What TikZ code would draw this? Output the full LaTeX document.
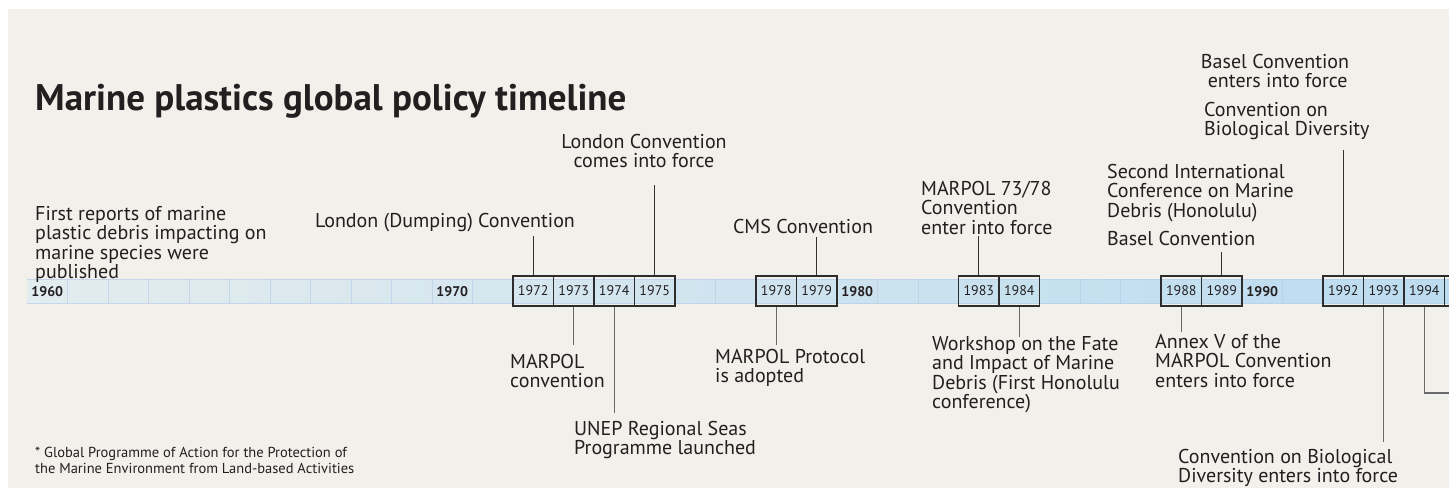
\documentclass[tikz,border=0pt]{standalone}
\usepackage{fontspec}
\setmainfont{PT Sans}
\begin{document}
\begin{tikzpicture}[x=1pt,y=-1pt,
  txt/.style={inner sep=0pt, text=ink, font=\fontsize{20}{19.5}\selectfont, align=left},
  yearbox/.style={draw=boxline, line width=1.2pt, minimum width=40.5pt, minimum height=30pt, inner sep=0pt, font=\fontsize{14}{14}\selectfont, text=ink},
  decade/.style={inner sep=0pt, font=\bfseries\fontsize{14}{14}\selectfont, text=ink},
  upline/.style={draw=upcol, line width=1.1pt},
  downline/.style={draw=downcol, line width=1.1pt}]
\definecolor{bg}{RGB}{241,240,234}
\definecolor{ink}{RGB}{35,31,32}
\definecolor{boxline}{RGB}{45,45,45}
\definecolor{upcol}{RGB}{50,50,50}
\definecolor{downcol}{RGB}{105,105,105}
\definecolor{barL}{RGB}{227,236,238}
\definecolor{barR}{RGB}{188,220,240}
\definecolor{cellline}{RGB}{178,202,232}
\useasboundingbox (0,0) rectangle (1449,488);
\fill[white] (0,0) rectangle (1449,488);
\fill[bg] (8,9) rectangle (1449,488);
% bar
\shade[left color=barL, right color=barR] (27,279) rectangle (1449,303);
\foreach \i in {1,...,35} {\draw[cellline, opacity=0.6, line width=0.8pt] (27+\i*40.5,279) -- (27+\i*40.5,303);}
\draw[cellline, opacity=0.6, line width=0.8pt] (27,279) -- (1449,279) (27,303) -- (1449,303);
% title
\node[inner sep=0pt, anchor=base west, text=ink, font=\bfseries\fontsize{37}{37}\selectfont] (title) at (35,110) {Marine plastics global policy timeline};
% decades
\node[decade] (d1960) at (47.25,292) {1960};
\node[decade] (d1970) at (452.25,292) {1970};
\node[decade] (d1980) at (857.25,292) {1980};
\node[decade] (d1990) at (1262.25,292) {1990};
% year boxes
\foreach \yr in {1972,1973,1974,1975,1978,1979,1983,1984,1988,1989,1992,1993,1994} {
  \node[yearbox] (b\yr) at ({47.25+(\yr-1960)*40.5},291) {\yr};
}
\node[yearbox] (b1995) at ({47.25+35*40.5},291) {};
% labels
\node[txt, anchor=north west] (l1960) at (35,206) {First reports of marine\\plastic debris impacting on\\marine species were\\published};
\node[txt, anchor=base] (l1972) at (445,227) {London (Dumping) Convention};
\node[txt, anchor=north, align=center] (l1975) at (644,134) {London Convention\\comes into force};
\node[txt, anchor=north west] (l1973) at (510,354) {MARPOL\\convention};
\node[txt, anchor=north west] (l1974) at (574,421) {UNEP Regional Seas\\Programme launched};
\node[txt, anchor=base] (l1979) at (803,233) {CMS Convention};
\node[txt, anchor=north west] (l1978) at (715,349) {MARPOL Protocol\\is adopted};
\node[txt, anchor=north west] (l1983) at (921,181) {MARPOL 73/78\\Convention\\enter into force};
\node[txt, anchor=north west] (l1984) at (932,336) {Workshop on the Fate\\and Impact of Marine\\Debris (First Honolulu\\conference)};
\node[txt, anchor=north west] (l1988) at (1155,334) {Annex V of the\\MARPOL Convention\\enters into force};
\node[txt, anchor=north west] (l1989a) at (1107,164) {Second International\\Conference on Marine\\Debris (Honolulu)};
\node[txt, anchor=base west] (l1989b) at (1107,245) {Basel Convention};
\node[txt, anchor=north, align=center] (l1992a) at (1275,54) {Basel Convention\\\ enters into force};
\node[txt, anchor=north west] (l1992b) at (1204,102) {Convention on\\Biological Diversity};
\node[txt, anchor=north west] (l1993) at (1178,449) {Convention on Biological\\Diversity enters into force};
\node[inner sep=0pt, anchor=north west, align=left, text=ink, font=\fontsize{14.5}{16}\selectfont] (foot) at (35,447) {* Global Programme of Action for the Protection of\\the Marine Environment from Land-based Activities};
% connector end points
\coordinate (e1972) at (533.25,236);
\coordinate (e1975) at (654.75,185);
\coordinate (e1973) at (573.75,345);
\coordinate (e1974) at (614.25,413);
\coordinate (e1979) at (816.75,237);
\coordinate (e1978) at (776.25,345);
\coordinate (e1983) at (978.75,236);
\coordinate (e1984) at (1019.25,337);
\coordinate (e1988) at (1181.25,332);
\coordinate (e1989) at (1221.75,252);
\coordinate (e1992) at (1343.25,150);
\coordinate (e1993) at (1383.75,442);
\coordinate (k1994) at (1424.25,393);
\coordinate (e1994) at (1449,393);
% connectors
\draw[upline] (b1972.north) -- (e1972);
\draw[upline] (b1975.north) -- (e1975);
\draw[upline] (b1979.north) -- (e1979);
\draw[upline] (b1983.north) -- (e1983);
\draw[upline] (b1989.north) -- (e1989);
\draw[upline] (b1992.north) -- (e1992);
\draw[downline] (b1973.south) -- (e1973);
\draw[downline] (b1974.south) -- (e1974);
\draw[downline] (b1978.south) -- (e1978);
\draw[downline] (b1984.south) -- (e1984);
\draw[downline] (b1988.south) -- (e1988);
\draw[downline] (b1993.south) -- (e1993);
\draw[downline] (b1994.south) -- (k1994) -- (e1994);
\end{tikzpicture}
\end{document}
